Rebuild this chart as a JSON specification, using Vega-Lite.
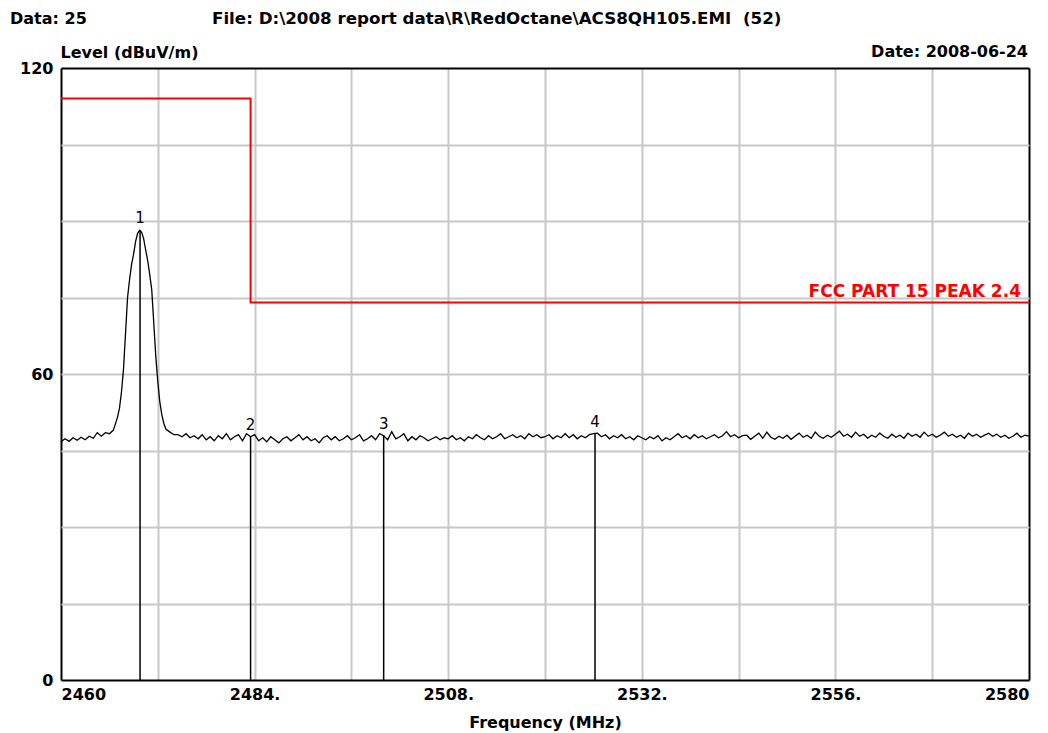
{
  "$schema": "https://vega.github.io/schema/vega-lite/v6.json",
  "width": 968,
  "height": 612,
  "autosize": {"type": "none"},
  "padding": {"left": 61, "top": 68, "right": 19, "bottom": 53},
  "background": "white",
  "config": {"view": {"stroke": null}, "font": "DejaVu Sans"},
  "datasets": {
    "trace": [
      {"f":2460,"v":46.7},{"f":2460.5,"v":47.3},{"f":2461,"v":46.8},{"f":2461.5,"v":47.5},{"f":2462,"v":47.0},{"f":2462.5,"v":47.6},{"f":2463,"v":47.1},{"f":2463.5,"v":47.8},{"f":2464,"v":47.4},{"f":2464.5,"v":48.5},{"f":2465,"v":47.8},{"f":2465.5,"v":48.5},{"f":2466,"v":48.3},{"f":2466.5,"v":49.0},
      {"f":2467,"v":51.5},{"f":2467.25,"v":53.3},{"f":2467.5,"v":56.5},{"f":2467.75,"v":61.0},{"f":2468,"v":68.0},{"f":2468.25,"v":75.0},{"f":2468.5,"v":78.5},{"f":2468.75,"v":81.5},{"f":2469,"v":83.5},{"f":2469.25,"v":86.0},{"f":2469.5,"v":87.6},{"f":2469.75,"v":88.2},{"f":2470,"v":87.8},{"f":2470.25,"v":86.5},{"f":2470.5,"v":84.3},{"f":2470.75,"v":82.2},{"f":2471,"v":79.5},{"f":2471.25,"v":76.5},{"f":2471.5,"v":70.0},{"f":2471.75,"v":63.5},{"f":2472,"v":58.5},{"f":2472.25,"v":54.5},{"f":2472.5,"v":52.0},{"f":2472.75,"v":50.3},{"f":2473,"v":49.2},{"f":2473.5,"v":48.6},
      {"f":2474,"v":48.1},{"f":2474.5,"v":48.1},{"f":2475,"v":47.7},{"f":2475.5,"v":48.3},{"f":2476,"v":47.5},{"f":2476.5,"v":47.9},{"f":2477,"v":47.3},{"f":2477.5,"v":48.1},{"f":2478,"v":47.1},{"f":2478.5,"v":47.7},{"f":2479,"v":46.9},{"f":2479.5,"v":47.9},{"f":2480,"v":47.3},{"f":2480.5,"v":48.3},{"f":2481,"v":47.1},{"f":2481.5,"v":47.7},{"f":2482,"v":48.1},{"f":2482.5,"v":46.9},{"f":2483,"v":48.3},{"f":2483.5,"v":47.7},
      {"f":2484,"v":48.1},{"f":2484.5,"v":46.9},{"f":2485,"v":47.5},{"f":2485.5,"v":46.7},{"f":2486,"v":47.7},{"f":2486.5,"v":47.1},{"f":2487,"v":46.5},{"f":2487.5,"v":47.3},{"f":2488,"v":47.7},{"f":2488.5,"v":46.9},{"f":2489,"v":47.5},{"f":2489.5,"v":48.1},{"f":2490,"v":47.1},{"f":2490.5,"v":47.7},{"f":2491,"v":46.9},{"f":2491.5,"v":47.3},{"f":2492,"v":46.5},{"f":2492.5,"v":47.5},{"f":2493,"v":47.9},{"f":2493.5,"v":47.1},{"f":2494,"v":47.7},{"f":2494.5,"v":46.9},{"f":2495,"v":47.3},{"f":2495.5,"v":47.9},{"f":2496,"v":47.1},{"f":2496.5,"v":47.5},{"f":2497,"v":48.1},{"f":2497.5,"v":46.9},{"f":2498,"v":47.3},{"f":2498.5,"v":47.9},{"f":2499,"v":47.1},{"f":2499.5,"v":48.3},
      {"f":2500,"v":47.9},{"f":2500.5,"v":47.1},{"f":2501,"v":48.7},{"f":2501.5,"v":47.3},{"f":2502,"v":47.7},{"f":2502.5,"v":48.3},{"f":2503,"v":46.9},{"f":2503.5,"v":47.7},{"f":2504,"v":47.1},{"f":2504.5,"v":47.9},{"f":2505,"v":47.5},{"f":2505.5,"v":46.9},{"f":2506,"v":47.3},{"f":2506.5,"v":47.7},{"f":2507,"v":47.1},{"f":2507.5,"v":47.5},{"f":2508,"v":47.3},{"f":2508.5,"v":47.9},{"f":2509,"v":47.1},{"f":2509.5,"v":47.5},{"f":2510,"v":46.9},{"f":2510.5,"v":47.7},{"f":2511,"v":47.3},{"f":2511.5,"v":48.1},{"f":2512,"v":47.5},{"f":2512.5,"v":47.1},{"f":2513,"v":47.9},{"f":2513.5,"v":47.3},{"f":2514,"v":47.7},{"f":2514.5,"v":48.3},{"f":2515,"v":47.3},{"f":2515.5,"v":47.7},{"f":2516,"v":48.1},{"f":2516.5,"v":47.5},{"f":2517,"v":47.9},{"f":2517.5,"v":47.3},{"f":2518,"v":48.3},{"f":2518.5,"v":47.7},{"f":2519,"v":48.1},{"f":2519.5,"v":47.5},
      {"f":2520,"v":47.7},{"f":2520.5,"v":48.1},{"f":2521,"v":47.3},{"f":2521.5,"v":47.9},{"f":2522,"v":47.5},{"f":2522.5,"v":48.3},{"f":2523,"v":47.5},{"f":2523.5,"v":48.1},{"f":2524,"v":47.3},{"f":2524.5,"v":47.9},{"f":2525,"v":47.5},{"f":2525.5,"v":48.1},{"f":2526,"v":48.3},{"f":2526.5,"v":48.4},{"f":2527,"v":47.7},{"f":2527.5,"v":48.1},{"f":2528,"v":47.3},{"f":2528.5,"v":47.9},{"f":2529,"v":47.5},{"f":2529.5,"v":48.1},{"f":2530,"v":47.3},{"f":2530.5,"v":47.7},{"f":2531,"v":47.1},{"f":2531.5,"v":47.9},{"f":2532,"v":47.5},{"f":2532.5,"v":47.1},{"f":2533,"v":47.7},{"f":2533.5,"v":47.3},{"f":2534,"v":47.9},{"f":2534.5,"v":46.9},{"f":2535,"v":47.5},{"f":2535.5,"v":47.1},{"f":2536,"v":47.7},{"f":2536.5,"v":48.3},{"f":2537,"v":47.5},{"f":2537.5,"v":47.9},{"f":2538,"v":47.3},{"f":2538.5,"v":48.1},{"f":2539,"v":47.5},{"f":2539.5,"v":47.9},
      {"f":2540,"v":47.3},{"f":2540.5,"v":47.7},{"f":2541,"v":48.1},{"f":2541.5,"v":47.5},{"f":2542,"v":47.9},{"f":2542.5,"v":48.7},{"f":2543,"v":47.7},{"f":2543.5,"v":48.1},{"f":2544,"v":47.5},{"f":2544.5,"v":47.9},{"f":2545,"v":48.0},{"f":2545.5,"v":47.2},{"f":2546,"v":47.8},{"f":2546.5,"v":48.4},{"f":2547,"v":47.4},{"f":2547.5,"v":48.6},{"f":2548,"v":47.6},{"f":2548.5,"v":47.2},{"f":2549,"v":47.8},{"f":2549.5,"v":47.4},{"f":2550,"v":48.0},{"f":2550.5,"v":47.2},{"f":2551,"v":47.8},{"f":2551.5,"v":48.4},{"f":2552,"v":47.6},{"f":2552.5,"v":48.0},{"f":2553,"v":47.4},{"f":2553.5,"v":48.6},{"f":2554,"v":47.8},{"f":2554.5,"v":47.4},{"f":2555,"v":48.0},{"f":2555.5,"v":47.6},{"f":2556,"v":48.2},{"f":2556.5,"v":48.8},{"f":2557,"v":47.8},{"f":2557.5,"v":48.2},{"f":2558,"v":47.6},{"f":2558.5,"v":48.6},{"f":2559,"v":47.8},{"f":2559.5,"v":48.2},
      {"f":2560,"v":47.4},{"f":2560.5,"v":48.0},{"f":2561,"v":47.6},{"f":2561.5,"v":48.4},{"f":2562,"v":47.8},{"f":2562.5,"v":47.4},{"f":2563,"v":48.2},{"f":2563.5,"v":47.6},{"f":2564,"v":48.0},{"f":2564.5,"v":47.4},{"f":2565,"v":48.4},{"f":2565.5,"v":47.8},{"f":2566,"v":48.2},{"f":2566.5,"v":47.6},{"f":2567,"v":48.6},{"f":2567.5,"v":47.8},{"f":2568,"v":48.2},{"f":2568.5,"v":47.6},{"f":2569,"v":48.0},{"f":2569.5,"v":48.6},{"f":2570,"v":47.8},{"f":2570.5,"v":48.2},{"f":2571,"v":47.6},{"f":2571.5,"v":48.0},{"f":2572,"v":47.4},{"f":2572.5,"v":48.4},{"f":2573,"v":47.8},{"f":2573.5,"v":48.2},{"f":2574,"v":47.6},{"f":2574.5,"v":48.0},{"f":2575,"v":48.4},{"f":2575.5,"v":47.8},{"f":2576,"v":48.2},{"f":2576.5,"v":47.6},{"f":2577,"v":48.0},{"f":2577.5,"v":47.4},{"f":2578,"v":47.8},{"f":2578.5,"v":48.4},{"f":2579,"v":47.6},{"f":2579.5,"v":48.0},{"f":2580,"v":47.8}
    ],
    "limit": [
      {"f":2460,"v":114,"i":0},{"f":2483.5,"v":114,"i":1},{"f":2483.5,"v":74,"i":2},{"f":2580,"v":74,"i":3}
    ],
    "markers": [
      {"n":"1","f":2469.8,"v":88.2},{"n":"2","f":2483.5,"v":47.7},{"n":"3","f":2500,"v":47.9},{"n":"4","f":2526.2,"v":48.3}
    ]
  },
  "layer": [
    {
      "data": {"name": "trace"},
      "mark": {"type": "line", "color": "#000000", "strokeWidth": 1.3},
      "encoding": {
        "x": {
          "field": "f", "type": "quantitative",
          "scale": {"domain": [2460, 2580], "nice": false, "zero": false},
          "axis": {
            "title": "Frequency (MHz)",
            "values": [2460,2472,2484,2496,2508,2520,2532,2544,2556,2568,2580],
            "format": "d",
            "labelExpr": "(datum.value - 2460) % 24 == 0 ? ((datum.value == 2460 || datum.value == 2580) ? datum.label : datum.label + '.') : ''",
            "labelFlush": true,
            "labelOverlap": false,
            "labelPadding": 6,
            "ticks": false,
            "tickSize": 0,
            "domain": false,
            "grid": true,
            "gridColor": {"condition": {"test": "datum.value == 2460 || datum.value == 2580", "value": "#000000"}, "value": "#c8c8c8"},
            "gridWidth": 2,
            "labelFont": "DejaVu Sans", "labelFontSize": 16, "labelFontWeight": "bold", "labelColor": "#000000",
            "titleFont": "DejaVu Sans", "titleFontSize": 16, "titleFontWeight": "bold", "titleColor": "#000000",
            "titleBaseline": "top",
            "titleY": 34
          }
        },
        "y": {
          "field": "v", "type": "quantitative",
          "scale": {"domain": [0, 120], "nice": false, "zero": true},
          "axis": {
            "title": "Level (dBuV/m)",
            "values": [0,15,30,45,60,75,90,105,120],
            "format": "d",
            "labelExpr": "datum.value % 60 == 0 ? datum.label : ''",
            "labelOverlap": false,
            "labelPadding": 8,
            "ticks": false,
            "tickSize": 0,
            "domain": false,
            "grid": true,
            "gridColor": {"condition": {"test": "datum.value == 0 || datum.value == 120", "value": "#000000"}, "value": "#c8c8c8"},
            "gridWidth": 2,
            "labelFont": "DejaVu Sans", "labelFontSize": 16, "labelFontWeight": "bold", "labelColor": "#000000",
            "titleFont": "DejaVu Sans", "titleFontSize": 16, "titleFontWeight": "bold", "titleColor": "#000000",
            "titleAngle": 0,
            "titleAlign": "left",
            "titleBaseline": "alphabetic",
            "titleX": -1,
            "titleY": -11
          }
        }
      }
    },
    {
      "data": {"name": "limit"},
      "mark": {"type": "line", "color": "#ff0000", "strokeWidth": 2},
      "encoding": {
        "x": {"field": "f", "type": "quantitative"},
        "y": {"field": "v", "type": "quantitative"},
        "order": {"field": "i", "type": "quantitative"}
      }
    },
    {
      "data": {"name": "markers"},
      "mark": {"type": "rule", "color": "#000000", "strokeWidth": 1.5},
      "encoding": {
        "x": {"field": "f", "type": "quantitative"},
        "y": {"field": "v", "type": "quantitative"},
        "y2": {"datum": 0}
      }
    },
    {
      "data": {"name": "markers"},
      "mark": {"type": "text", "color": "#000000", "font": "DejaVu Sans", "fontSize": 15, "fontWeight": "normal", "align": "center", "baseline": "alphabetic", "dy": -7},
      "encoding": {
        "x": {"field": "f", "type": "quantitative"},
        "y": {"field": "v", "type": "quantitative"},
        "text": {"field": "n"}
      }
    },
    {
      "data": {"values": [{}]},
      "mark": {"type": "text", "text": "FCC PART 15 PEAK 2.4", "color": "#ff0000", "font": "DejaVu Sans", "fontSize": 17, "fontWeight": "bold", "align": "right", "baseline": "alphabetic", "dx": -8, "dy": -6},
      "encoding": {
        "x": {"datum": 2580, "type": "quantitative"},
        "y": {"datum": 74, "type": "quantitative"}
      }
    },
    {
      "data": {"values": [{}]},
      "mark": {"type": "text", "text": "Data: 25", "color": "#000000", "font": "DejaVu Sans", "fontSize": 16, "fontWeight": "bold", "align": "left", "baseline": "alphabetic", "dx": -51, "dy": -44},
      "encoding": {
        "x": {"datum": 2460, "type": "quantitative"},
        "y": {"datum": 120, "type": "quantitative"}
      }
    },
    {
      "data": {"values": [{}]},
      "mark": {"type": "text", "text": "File: D:\\2008 report data\\R\\RedOctane\\ACS8QH105.EMI\u00a0 (52)", "color": "#000000", "font": "DejaVu Sans", "fontSize": 16.7, "fontWeight": "bold", "align": "left", "baseline": "alphabetic", "dx": 151, "dy": -44},
      "encoding": {
        "x": {"datum": 2460, "type": "quantitative"},
        "y": {"datum": 120, "type": "quantitative"}
      }
    },
    {
      "data": {"values": [{}]},
      "mark": {"type": "text", "text": "Date: 2008-06-24", "color": "#000000", "font": "DejaVu Sans", "fontSize": 16, "fontWeight": "bold", "align": "right", "baseline": "alphabetic", "dx": -1, "dy": -11},
      "encoding": {
        "x": {"datum": 2580, "type": "quantitative"},
        "y": {"datum": 120, "type": "quantitative"}
      }
    }
  ]
}
